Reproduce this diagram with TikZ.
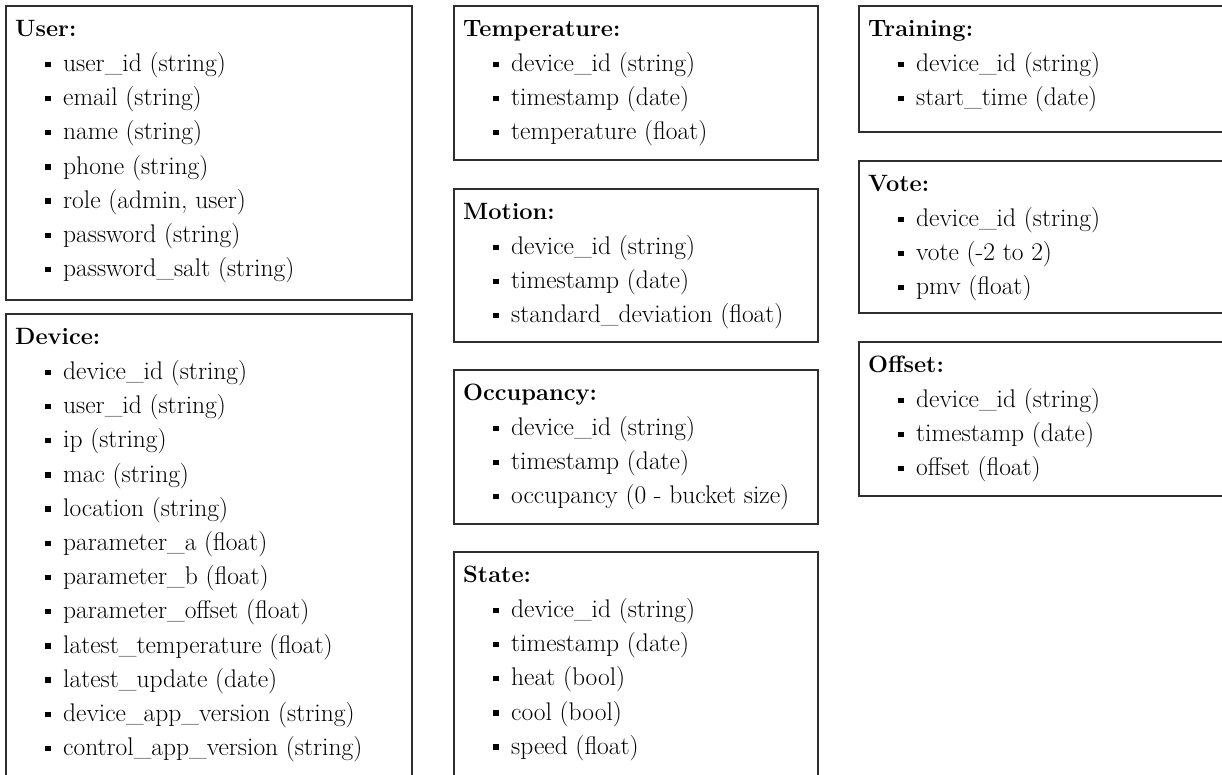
\documentclass[tikz,border=0pt]{standalone}
\usetikzlibrary{calc}
\tikzset{
  box/.style={draw=black!82, line width=1.3pt, anchor=north west, inner sep=0pt, outer sep=0pt},
  ttl/.style={anchor=base west, inner sep=0pt, font=\fontsize{23.6}{30}\selectfont\bfseries},
  itm/.style={anchor=base west, inner sep=0pt, font=\fontsize{25.5}{30}\selectfont},
  bul/.style={fill=black}
}
\newcommand\entbox[7]{%
  \node[box, minimum width=#4pt, minimum height=#5pt] (#1) at (#2,#3) {};
  \node[ttl] (#1-t) at ([xshift=9pt,yshift=-30pt]#1.north west) {#6};
  \foreach \txt [count=\i] in {#7} {
    \node[itm] (#1-\i) at ([xshift=57pt,yshift={-65.5pt-(\i-1)*34.2pt}]#1.north west) {\txt};
    \fill[bul] ([xshift=-18pt,yshift=4.5pt]#1-\i.base west) rectangle ++(6,-5.5);
  }
}
\begin{document}
\begin{tikzpicture}[x=1pt,y=-1pt]
\useasboundingbox (0,0) rectangle (1222,774);
\clip (0,0) rectangle (1222,774);
\entbox{user}{6}{6}{406}{294}{User:}{user\_id (string),email (string),name (string),phone (string),{role (admin, user)},password (string),password\_salt (string)}
\entbox{device}{6}{314}{406}{520}{Device:}{device\_id (string),user\_id (string),ip (string),mac (string),location (string),parameter\_a (float),parameter\_b (float),parameter\_offset (float),latest\_temperature (float),latest\_update (date),device\_app\_version (string),control\_app\_version (string)}
\entbox{temp}{454}{6}{364}{154}{Temperature:}{device\_id (string),timestamp (date),temperature (float)}
\entbox{motion}{454}{189}{364}{153}{Motion:}{device\_id (string),timestamp (date),standard\_deviation (float)}
\entbox{occ}{454}{370}{364}{154}{Occupancy:}{device\_id (string),timestamp (date),occupancy (0 - bucket size)}
\entbox{state}{454}{552}{364}{300}{State:}{device\_id (string),timestamp (date),heat (bool),cool (bool),speed (float)}
\entbox{train}{859}{6}{420}{126}{Training:}{device\_id (string),start\_time (date)}
\entbox{vote}{859}{161}{420}{152}{Vote:}{device\_id (string),vote (-2 to 2),pmv (float)}
\entbox{offset}{859}{342}{420}{154}{Offset:}{device\_id (string),timestamp (date),offset (float)}
\end{tikzpicture}
\end{document}
